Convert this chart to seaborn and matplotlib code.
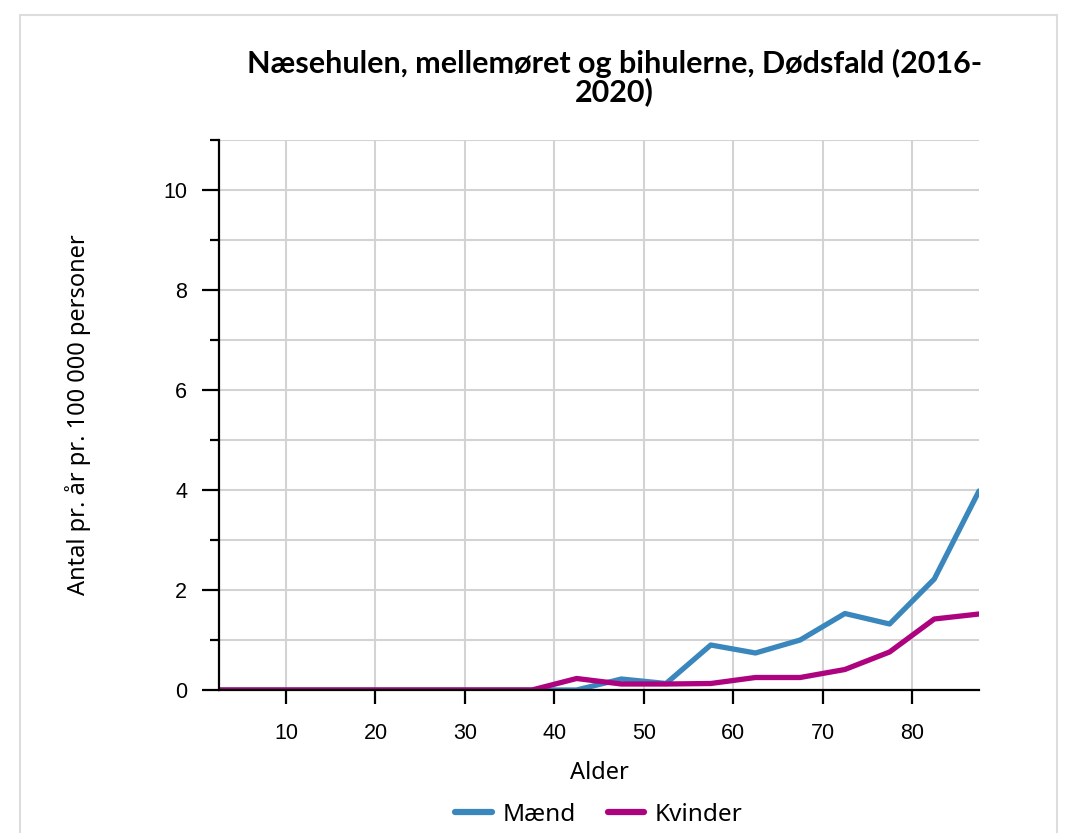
import pandas as pd
import seaborn as sns
import matplotlib.pyplot as plt
from matplotlib.patches import Rectangle
from matplotlib.ticker import MultipleLocator

# age group midpoints (5-year groups)
alder = [2.5, 7.5, 12.5, 17.5, 22.5, 27.5, 32.5, 37.5, 42.5,
         47.5, 52.5, 57.5, 62.5, 67.5, 72.5, 77.5, 82.5, 87.5]
maend = [0, 0, 0, 0, 0, 0, 0, 0, 0,
         0.22, 0.13, 0.9, 0.74, 1.0, 1.53, 1.32, 2.22, 3.98]
kvinder = [0, 0, 0, 0, 0, 0, 0, 0, 0.23,
           0.12, 0.12, 0.13, 0.25, 0.25, 0.41, 0.76, 1.42, 1.52]
serier = ['Mænd', 'Kvinder']
farver = ['#3a87bd', '#ae037e']

df = pd.concat([
    pd.DataFrame({'Alder': alder, 'Værdi': maend, 'Køn': serier[0]}),
    pd.DataFrame({'Alder': alder, 'Værdi': kvinder, 'Køn': serier[1]}),
])

sns.set_style('white')
plt.rcParams['font.family'] = ['Liberation Sans', 'DejaVu Sans']
plt.rcParams['text.color'] = 'black'
plt.rcParams['axes.labelcolor'] = 'black'
plt.rcParams['xtick.color'] = 'black'
plt.rcParams['ytick.color'] = 'black'

fig = plt.figure(figsize=(10.67, 8.33), dpi=100)
# light card border
fig.patches.append(Rectangle((20 / 1067, -0.05), 1037 / 1067, 1 - 15 / 833 + 0.05,
                             transform=fig.transFigure, fill=False,
                             edgecolor='#dddddd', linewidth=1.5))
ax = fig.add_axes([219 / 1067, 1 - 690 / 833, 760 / 1067, 550 / 833])

sns.lineplot(data=df, x='Alder', y='Værdi', hue='Køn', hue_order=serier,
             palette=farver, linewidth=3.8, ax=ax, legend=False)

ax.set_xlim(2.5, 87.5)
ax.set_ylim(0, 11)
ax.xaxis.set_major_locator(MultipleLocator(10))
ax.yaxis.set_major_locator(MultipleLocator(2))
ax.yaxis.set_minor_locator(MultipleLocator(1))
ax.grid(True, which='both', color='#d3d3d3', linewidth=1.5)
ax.set_axisbelow(True)
for s in ['top', 'right']:
    ax.spines[s].set_visible(False)
for s in ['left', 'bottom']:
    ax.spines[s].set_color('black')
    ax.spines[s].set_linewidth(1.6)
ax.tick_params(which='both', bottom=True, left=True, direction='out')
ax.tick_params(axis='x', which='major', length=10, width=1.6, labelsize=15.5, pad=14)
ax.tick_params(axis='y', which='major', length=12, width=1.6, labelsize=15.5, pad=11)
ax.tick_params(axis='y', which='minor', length=6.5, width=1.6)
ax.tick_params(axis='x', which='minor', length=0)

ax.set_xlabel('Alder', fontsize=17, family='Noto Sans', labelpad=12)
ax.set_ylabel('Antal pr. år pr. 100 000 personer', fontsize=17,
              family='Noto Sans', labelpad=52)
ax.set_title('Næsehulen, mellemøret og bihulerne, Dødsfald (2016-\n2020)',
             fontsize=22, fontweight='bold', family='Lato',
             linespacing=0.95, pad=28, x=0.52)

handles = [plt.Line2D([], [], color=c, linewidth=4.5) for c in farver]
fig.legend(handles, serier, loc='center', bbox_to_anchor=(599 / 1067, 1 - 815 / 833),
           ncol=2, frameon=False, handlelength=1.5, handletextpad=0.45,
           columnspacing=1.3, prop={'family': 'Noto Sans', 'size': 17.5})

fig.savefig('out.png', dpi=100)
